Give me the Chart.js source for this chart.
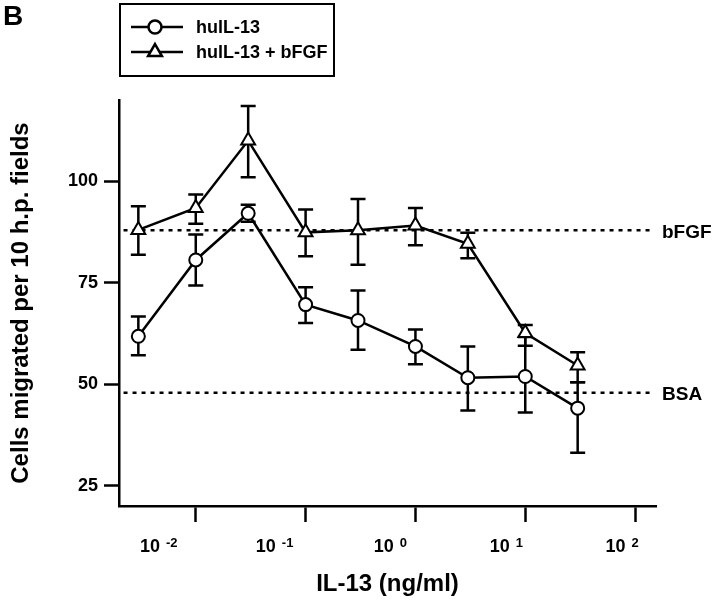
<!DOCTYPE html>
<html>
<head>
<meta charset="utf-8">
<script src="https://cdn.jsdelivr.net/npm/chart.js@4.4.1/dist/chart.umd.min.js"></script>
<style>
  body { margin: 0; background: #fff; }
  #wrap { width: 720px; height: 604px; }
</style>
</head>
<body>
<div id="wrap"><canvas id="myChart" width="720" height="604"></canvas></div>
<script>
// IL-13 dose (ng/ml)
let doses = [0.003, 0.01, 0.03, 0.1, 0.3, 1, 3, 10, 30]

// huIL-13 alone
let il13 = [61.8, 80.6, 92.1, 69.6, 65.7, 59.3, 51.6, 51.9, 44.1]
let il13Hi = [66.7, 86.9, 94.2, 73.9, 73.1, 63.5, 59.3, 61.6, 50.5]
let il13Lo = [57.1, 74.3, 90.0, 65.1, 58.5, 54.9, 43.5, 43.0, 33.1]

// huIL-13 + bFGF
let il13Bfgf = [88.0, 93.4, 110.0, 87.4, 87.9, 89.1, 84.6, 62.6, 54.6]
let il13BfgfHi = [93.8, 96.7, 118.5, 93.0, 95.6, 93.4, 87.3, 64.6, 57.9]
let il13BfgfLo = [81.9, 89.5, 101.0, 81.5, 79.4, 84.2, 81.0, 59.5, 50.5]

// control levels (dotted lines)
let refNames = ["bFGF", "BSA"]
let refLevels = [87.9, 47.9]
let refSpan = [0.0022, 140]

// axis ticks
let xTickValues = [0.01, 0.1, 1, 10, 100]
let xTickExps = ["-2", "-1", "0", "1", "2"]
let yTickValues = [25, 50, 75, 100]

let seriesNames = ["hulL-13", "hulL-13 + bFGF"]

const FONT = "'Liberation Sans', Arial, sans-serif"
Chart.defaults.font.family = FONT
Chart.defaults.color = "#000"

const pts = (ys) => doses.map((d, i) => ({ x: d, y: ys[i] }))

const errors = [
    { hi: il13Hi, lo: il13Lo },
    { hi: il13BfgfHi, lo: il13BfgfLo },
]

// error bars under the markers
const errorBars = {
    id: "errorBars",
    beforeDatasetsDraw(chart) {
        const ctx = chart.ctx
        const xs = chart.scales.x, ys = chart.scales.y
        ctx.save()
        ctx.strokeStyle = "#000"
        ctx.lineWidth = 2.5
        errors.forEach(e => {
            doses.forEach((d, i) => {
                const px = xs.getPixelForValue(d)
                const top = ys.getPixelForValue(e.hi[i])
                const bot = ys.getPixelForValue(e.lo[i])
                ctx.beginPath()
                ctx.moveTo(px, top); ctx.lineTo(px, bot)
                ctx.moveTo(px - 7.5, top); ctx.lineTo(px + 7.5, top)
                ctx.moveTo(px - 7.5, bot); ctx.lineTo(px + 7.5, bot)
                ctx.stroke()
            })
        })
        ctx.restore()
    }
}

function marker(ctx, style, x, y) {
    ctx.beginPath()
    if (style === "circle") {
        ctx.arc(x, y, 6.5, 0, Math.PI * 2)
    } else {
        const r = 8
        for (let k = 0; k < 3; k++) {
            const a = k * 2 * Math.PI / 3
            const fx = x + Math.sin(a) * r, fy = y - Math.cos(a) * r
            if (k === 0) ctx.moveTo(fx, fy); else ctx.lineTo(fx, fy)
        }
        ctx.closePath()
    }
    ctx.fillStyle = "#fff"
    ctx.fill()
    ctx.stroke()
}

// legend box, panel letter, tick labels and reference labels
const extras = {
    id: "extras",
    afterDraw(chart) {
        const ctx = chart.ctx
        const xs = chart.scales.x, ys = chart.scales.y
        const area = chart.chartArea
        ctx.save()
        ctx.fillStyle = "#000"
        ctx.strokeStyle = "#000"

        // panel letter
        ctx.font = "bold 28px " + FONT
        ctx.textBaseline = "alphabetic"
        ctx.textAlign = "left"
        ctx.fillText("B", 3, 25)

        // legend
        ctx.lineWidth = 2
        ctx.strokeRect(120, 4, 214, 72)
        const styles = ["circle", "triangle"]
        seriesNames.forEach((name, i) => {
            const y = 27 + i * 25
            ctx.lineWidth = 2.5
            ctx.beginPath(); ctx.moveTo(131, y); ctx.lineTo(183, y); ctx.stroke()
            marker(ctx, styles[i], 155, y)
            ctx.fillStyle = "#000"
            ctx.font = "bold 18px " + FONT
            ctx.textBaseline = "middle"
            ctx.fillText(name, 196, y + 1)
        })

        // x tick labels: 10 with superscript exponent
        xTickValues.forEach((v, i) => {
            const px = xs.getPixelForValue(v) - 25 + 6 * Math.log10(v)
            ctx.font = "bold 18px " + FONT
            const wBase = ctx.measureText("10").width
            ctx.font = "bold 13px " + FONT
            const wExp = ctx.measureText(xTickExps[i]).width
            const left = px - (wBase + 6 + wExp) / 2
            ctx.textBaseline = "alphabetic"
            ctx.font = "bold 18px " + FONT
            ctx.fillText("10", left, area.bottom + 46)
            ctx.font = "bold 13px " + FONT
            ctx.fillText(xTickExps[i], left + wBase + 6, area.bottom + 41)
        })

        // reference line labels
        ctx.font = "bold 19px " + FONT
        ctx.textBaseline = "middle"
        refNames.forEach((n, i) => {
            ctx.fillText(n, area.right + 6, ys.getPixelForValue(refLevels[i]) + 2)
        })
        ctx.restore()
    }
}

const refSets = refLevels.map((lv, i) => ({
    label: refNames[i],
    data: refSpan.map(x => ({ x: x, y: lv })),
    borderColor: "#000",
    borderWidth: 2.5,
    borderDash: [4, 5],
    pointRadius: 0,
    order: 1,
}))

new Chart("myChart", {
    type: "line",
    data: {
        datasets: [
            {
                label: seriesNames[0],
                data: pts(il13),
                borderColor: "#000",
                borderWidth: 2.5,
                pointStyle: "circle",
                pointRadius: 6.5,
                pointBorderWidth: 2,
                pointBackgroundColor: "#fff",
                order: 0,
            },
            {
                label: seriesNames[1],
                data: pts(il13Bfgf),
                borderColor: "#000",
                borderWidth: 2.5,
                pointStyle: "triangle",
                pointRadius: 8,
                pointBorderWidth: 2,
                pointBackgroundColor: "#fff",
                order: 0,
            },
            ...refSets,
        ]
    },
    options: {
        responsive: false,
        animation: false,
        layout: { padding: { left: 0, right: 64, top: 100, bottom: 0 } },
        plugins: {
            legend: { display: false },
            tooltip: { enabled: false },
        },
        scales: {
            x: {
                type: "logarithmic",
                min: 0.002,
                max: 155,
                afterBuildTicks: s => { s.ticks = xTickValues.map(v => ({ value: v })) },
                afterFit: s => { s.height = 98 },
                ticks: { display: false },
                grid: {
                    drawOnChartArea: false,
                    drawTicks: true,
                    tickLength: 16,
                    tickWidth: 2.5,
                    tickColor: "#000",
                },
                border: { display: true, color: "#000", width: 2.5 },
                title: {
                    display: true,
                    text: "IL-13 (ng/ml)",
                    font: { size: 24, weight: "bold" },
                    padding: { top: 0, bottom: 5 },
                },
            },
            y: {
                type: "linear",
                min: 20,
                max: 120,
                afterBuildTicks: s => { s.ticks = yTickValues.map(v => ({ value: v })) },
                afterFit: s => { s.width = 119 },
                ticks: {
                    font: { size: 18, weight: "bold" },
                    padding: 6,
                },
                grid: {
                    drawOnChartArea: false,
                    drawTicks: true,
                    tickLength: 15,
                    tickWidth: 2.5,
                    tickColor: "#000",
                },
                border: { display: true, color: "#000", width: 2.5 },
                title: {
                    display: true,
                    text: "Cells migrated per 10 h.p. fields",
                    font: { size: 24, weight: "bold" },
                    padding: { top: 7, bottom: 0 },
                },
            },
        },
    },
    plugins: [errorBars, extras],
})
</script>
</body>
</html>
